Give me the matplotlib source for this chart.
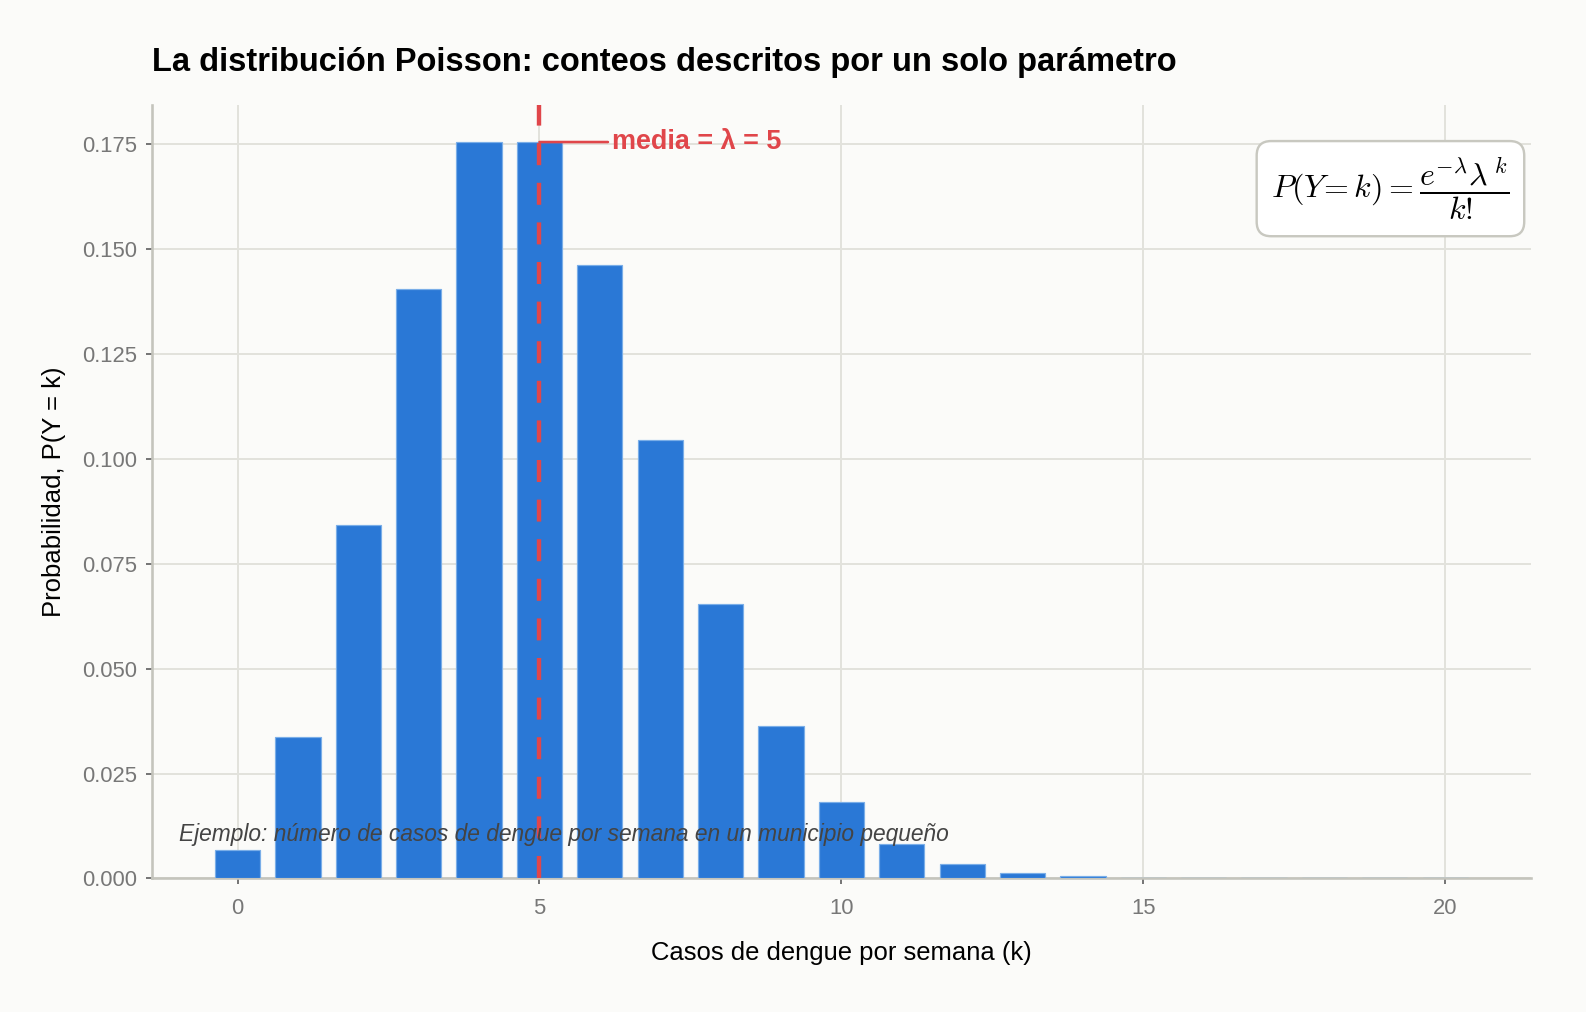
import matplotlib
matplotlib.use("Agg")
import matplotlib.pyplot as plt

# valores (Poisson, lambda = 5)
k_vals = list(range(21))
prob = [0.0067, 0.0337, 0.0842, 0.1404, 0.1755, 0.1755, 0.1462, 0.1044,
        0.0653, 0.0363, 0.0181, 0.0082, 0.0034, 0.0013, 0.0005, 0.00016,
        0.00005, 0.000015, 0.000004, 0.000001, 0.0000003]
lam = 5
xticks = [0, 5, 10, 15, 20]

plt.rcParams['font.family'] = ['Liberation Sans', 'DejaVu Sans']
plt.rcParams['mathtext.fontset'] = 'cm'

bg = '#fbfbf9'
fig, ax = plt.subplots(figsize=(11.014, 7.028), dpi=144)
fig.patch.set_facecolor(bg)
ax.set_facecolor(bg)

ax.bar(k_vals, prob, width=0.75, color='#2a78d6', edgecolor='#7aaee8',
       linewidth=0.6, zorder=3)

ax.axvline(lam, color='#e0464a', linestyle=(0, (5, 4)), linewidth=2.2, zorder=4)
ax.annotate('media = λ = 5', xy=(lam, max(prob)), xytext=(6.2, max(prob)),
            color='#e0464a', fontsize=13.5, fontweight='bold', va='center',
            arrowprops=dict(arrowstyle='-', color='#e0464a', lw=1.3,
                            shrinkA=0, shrinkB=0), zorder=5)

ax.text(0.985, 0.935, r'$P(Y\!=k)=\dfrac{e^{-\lambda}\lambda^{\,k}}{k!}$',
        transform=ax.transAxes, ha='right', va='top', fontsize=16,
        bbox=dict(boxstyle='round,pad=0.45', fc='white', ec='#c8c8c0', lw=1.2),
        zorder=6)

ax.text(-0.97, 0.0105, 'Ejemplo: número de casos de dengue por semana en un municipio pequeño',
        fontsize=11.4, style='italic', color='#444444', va='center', zorder=6)

ax.set_xticks(xticks)
ax.set_title('La distribución Poisson: conteos descritos por un solo parámetro',
             loc='left', fontsize=16.3, fontweight='bold', pad=17)
ax.set_xlabel('Casos de dengue por semana (k)', fontsize=12.8, labelpad=11)
ax.set_ylabel('Probabilidad, P(Y = k)', fontsize=12.8, labelpad=8)

ax.grid(True, color='#e2e2dc', linewidth=1.0, zorder=0)
ax.set_axisbelow(True)
for s in ['top', 'right']:
    ax.spines[s].set_visible(False)
for s in ['left', 'bottom']:
    ax.spines[s].set_color('#c4c4bc')
    ax.spines[s].set_linewidth(1.3)
ax.tick_params(colors='#777777', labelsize=11, length=3, width=1)
ax.tick_params(axis='y', pad=4.5)
ax.tick_params(axis='x', pad=7)

fig.subplots_adjust(left=0.096, right=0.965, top=0.896, bottom=0.132)
fig.savefig('out.png', facecolor=bg)
